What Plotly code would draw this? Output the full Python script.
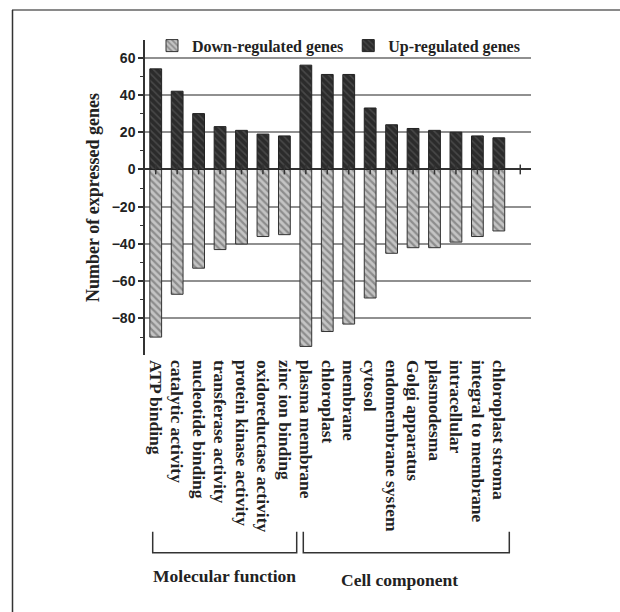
import plotly.graph_objects as go

categories = [
    "ATP binding", "catalytic activity", "nucleotide binding", "transferase activity",
    "protein kinase activity", "oxidoreductase activity", "zinc ion binding",
    "plasma membrane", "chloroplast", "membrane", "cytosol", "endomembrane system",
    "Golgi apparatus", "plasmodesma", "intracellular", "integral to membrane",
    "chloroplast stroma",
]
down_regulated = [-90, -67, -53, -43, -40, -36, -35, -95, -87, -83, -69, -45, -42, -42, -39, -36, -33]
up_regulated = [54, 42, 30, 23, 21, 19, 18, 56, 51, 51, 33, 24, 22, 21, 20, 18, 17]
y_tick_step = 20
group_names = ["Molecular function", "Cell component"]

W, H = 620, 612
L, R, T, B = 145, 89, 40, 257
PW, PH = W - L - R, H - T - B


def px_x(px):
    return (px - L) / PW


def px_y(py):
    return (H - B - py) / PH


serif = "Liberation Serif, Times New Roman, serif"
sans = "Liberation Sans, Arial, sans-serif"
x_idx = list(range(len(categories)))

fig = go.Figure()
fig.add_trace(go.Bar(
    x=x_idx, y=down_regulated, name="Down-regulated genes", width=0.55,
    marker=dict(color="#c4c4c4", line=dict(color="#333333", width=1),
                pattern=dict(shape="\\", bgcolor="#c4c4c4", fgcolor="#555555", size=5, solidity=0.45)),
))
fig.add_trace(go.Bar(
    x=x_idx, y=up_regulated, name="Up-regulated genes", width=0.55,
    marker=dict(color="#2b2b2b", line=dict(color="#222222", width=1),
                pattern=dict(shape="\\", bgcolor="#2b2b2b", fgcolor="#666666", size=5, solidity=0.3)),
))
# small tick marks on the zero axis
fig.add_trace(go.Scatter(
    x=list(range(len(categories) + 1)), y=[0] * (len(categories) + 1), mode="markers",
    marker=dict(symbol="line-ns", size=7, line=dict(color="#333333", width=1.5)),
    showlegend=False, hoverinfo="skip",
))

shapes = [
    # frame lines
    dict(type="line", xref="paper", yref="paper", x0=px_x(12), x1=px_x(620), y0=px_y(10), y1=px_y(10),
         line=dict(color="#8a8a8a", width=2)),
    dict(type="line", xref="paper", yref="paper", x0=px_x(12.5), x1=px_x(12.5), y0=px_y(10), y1=px_y(612),
         line=dict(color="#333333", width=1.5)),
    # brackets
    dict(type="path", xref="paper", yref="paper",
         path=f"M{px_x(152.7)},{px_y(531.7)} L{px_x(152.7)},{px_y(552.7)} L{px_x(296.7)},{px_y(552.7)} L{px_x(296.7)},{px_y(531.7)}",
         line=dict(color="#333333", width=1.5)),
    dict(type="path", xref="paper", yref="paper",
         path=f"M{px_x(303.3)},{px_y(531.7)} L{px_x(303.3)},{px_y(552.7)} L{px_x(509.3)},{px_y(552.7)} L{px_x(509.3)},{px_y(531.7)}",
         line=dict(color="#333333", width=1.5)),
]

annotations = [
    dict(text=group_names[0], xref="paper", yref="paper", x=px_x(224.7), y=px_y(576),
         xanchor="center", yanchor="middle", showarrow=False,
         font=dict(family=serif, size=17.5, color="#222222", weight="bold")),
    dict(text=group_names[1], xref="paper", yref="paper", x=px_x(399.5), y=px_y(580),
         xanchor="center", yanchor="middle", showarrow=False,
         font=dict(family=serif, size=17.5, color="#222222", weight="bold")),
]

fig.update_layout(
    width=W, height=H,
    margin=dict(l=L, r=R, t=T, b=B, autoexpand=False),
    paper_bgcolor="white", plot_bgcolor="white",
    barmode="relative",
    shapes=shapes, annotations=annotations,
    legend=dict(orientation="h", x=px_x(152), y=px_y(45.7), xanchor="left", yanchor="middle",
                bgcolor="rgba(0,0,0,0)", font=dict(family=serif, size=16, color="#222222", weight="bold"),
                itemwidth=30, traceorder="normal"),
    xaxis=dict(range=[-0.5, len(categories) + 0.5], tickmode="array", tickvals=x_idx, ticktext=categories,
               tickangle=90, showgrid=False, zeroline=False, showline=False, ticks="",
               ticklabelstandoff=4,
               tickfont=dict(family=serif, size=17.5, color="#222222", weight="bold")),
    yaxis=dict(range=[-99.6, 69.5], tick0=0, dtick=y_tick_step, showline=True, linecolor="#333333", linewidth=1.5,
               ticks="outside", ticklen=5, tickwidth=1.5, tickcolor="#333333",
               minor=dict(dtick=y_tick_step / 2, ticks="outside", ticklen=3, tickwidth=1, tickcolor="#333333", showgrid=False),
               showgrid=True, gridcolor="#909090", gridwidth=1.5,
               zeroline=True, zerolinecolor="#333333", zerolinewidth=2,
               tickfont=dict(family=sans, size=14, color="#222222", weight="bold"),
               title=dict(text="Number of expressed genes", standoff=7,
                          font=dict(family=serif, size=18, color="#222222", weight="bold"))),
)

fig.write_html("out.html", config={"displayModeBar": False},
               post_script="document.body.style.margin='0';document.body.style.overflow='hidden';")
